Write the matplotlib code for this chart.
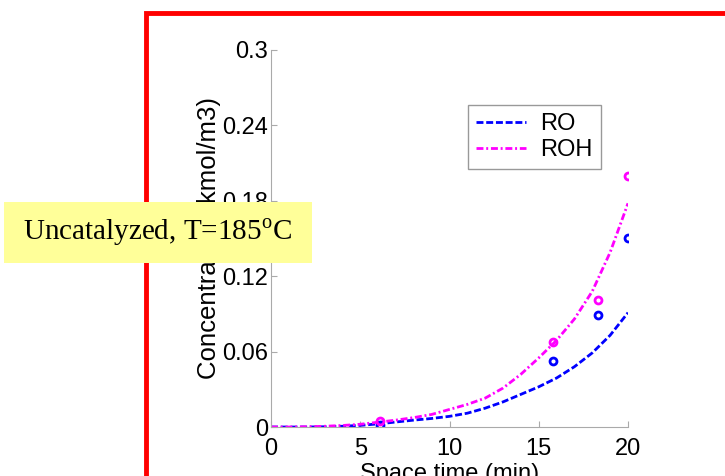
import matplotlib
matplotlib.use('Agg')
import matplotlib.pyplot as plt
from matplotlib.patches import Rectangle

# model curves
t_fit = [0, 1, 2, 3, 4, 5, 6, 7, 8, 9, 10, 11, 12, 13, 14, 15, 16, 17, 18, 19, 20]
ro_fit = [0, 0, 0, 0.0002, 0.0006, 0.0013, 0.0025, 0.0040, 0.0055, 0.0068, 0.0085,
          0.011, 0.015, 0.020, 0.026, 0.032, 0.039, 0.048, 0.059, 0.073, 0.091]
roh_fit = [0, 0, 0.0002, 0.0006, 0.0012, 0.0022, 0.0038, 0.0055, 0.0075, 0.010, 0.014,
           0.018, 0.023, 0.031, 0.042, 0.055, 0.069, 0.086, 0.108, 0.139, 0.178]

# measured points
t_exp = [6.1, 15.8, 18.3, 20]
ro_exp = [0.002, 0.0525, 0.089, 0.15]
roh_exp = [0.005, 0.068, 0.101, 0.2]

y_ticks = [0, 0.06, 0.12, 0.18, 0.24, 0.3]
y_labels = ['0', '0.06', '0.12', '0.18', '0.24', '0.3']
x_ticks = [0, 5, 10, 15, 20]

plt.rcParams['font.family'] = 'Liberation Sans'
plt.rcParams['mathtext.fontset'] = 'custom'
plt.rcParams['mathtext.rm'] = 'Liberation Serif'

fig = plt.figure(figsize=(7.25, 4.76), dpi=100)
ax = fig.add_axes([0.3738, 0.1029, 0.4924, 0.7921])

ax.plot(t_fit, ro_fit, color='blue', ls=(0, (2.5, 1)), lw=2, label='RO')
ax.plot(t_fit, roh_fit, color='magenta', ls=(0, (2.5, 1, 0.7, 1)), lw=2, label='ROH')
ax.plot(t_exp, ro_exp, 'o', mfc='none', mec='blue', ms=5, mew=2)
ax.plot(t_exp, roh_exp, 'o', mfc='none', mec='magenta', ms=5, mew=2)

ax.set_xlim(0, 20)
ax.set_ylim(0, 0.3)
ax.set_xticks(x_ticks)
ax.set_yticks(y_ticks)
ax.set_yticklabels(y_labels)
for s in ['top', 'right']:
    ax.spines[s].set_visible(False)
for s in ['left', 'bottom']:
    ax.spines[s].set_color('#aaaaaa')
ax.tick_params(direction='in', length=4, color='#aaaaaa', labelsize=17)
ax.tick_params(axis='x', pad=8)
ax.tick_params(axis='y', pad=2)
ax.set_xlabel('Space time (min)', fontsize=17, labelpad=2)
ax.set_ylabel('Concentration (kmol/m3)', fontsize=18.5, labelpad=1)

leg = ax.legend(loc='upper left', bbox_to_anchor=(0.552, 0.854), fontsize=17,
                fancybox=False, framealpha=1, edgecolor='#999999',
                handlelength=2.1, handletextpad=0.6, borderpad=0.35,
                labelspacing=0.15, borderaxespad=0)
leg.get_frame().set_linewidth(1)

# red frame round the slide part
fig.add_artist(Rectangle((146 / 725, -0.1), 1.0, 1 - 13 / 476 + 0.1,
                         transform=fig.transFigure, fill=False,
                         edgecolor='red', lw=3.5, clip_on=False))

# yellow label box
fig.add_artist(Rectangle((4 / 725, 1 - 263 / 476), 308 / 725, 61 / 476,
                         transform=fig.transFigure, facecolor='#ffff99',
                         edgecolor='none'))
fig.text(158 / 725, 1 - 232 / 476, r'Uncatalyzed, T=185$^{\mathrm{o}}$C',
         family='Liberation Serif', fontsize=21, ha='center', va='center')

fig.savefig('out.png', dpi=100)
